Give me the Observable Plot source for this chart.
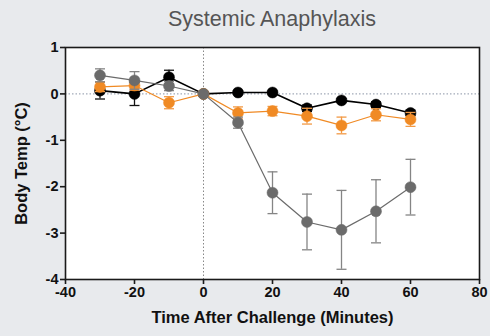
<!DOCTYPE html>
<html><head><meta charset="utf-8">
<script src="https://cdn.jsdelivr.net/npm/d3@7"></script>
<script src="https://cdn.jsdelivr.net/npm/@observablehq/plot@0.6"></script>
<style>
html,body{margin:0;padding:0;background:#e8eaed;width:490px;height:336px;overflow:hidden;font-family:"Liberation Sans",Arial,sans-serif;}
#title{height:38px;line-height:39px;text-align:center;font-size:21.5px;color:#555;padding-left:54px;box-sizing:border-box;}
</style></head>
<body>
<div id="title">Systemic Anaphylaxis</div>
<div id="chart"></div>
<script>
const times = [-30, -20, -10, 0, 10, 20, 30, 40, 50, 60];
const seriesNames = ["Black", "Orange", "Gray"];
const blackMean = [0.07, 0.0, 0.36, 0, 0.03, 0.03, -0.31, -0.14, -0.23, -0.41];
const blackErr  = [0.18, 0.25, 0.15, 0, 0.03, 0.03, 0.07, 0.04, 0.06, 0.06];
const orangeMean = [0.15, 0.18, -0.19, 0, -0.41, -0.37, -0.48, -0.68, -0.45, -0.55];
const orangeErr  = [0.1, 0.1, 0.13, 0, 0.13, 0.1, 0.17, 0.18, 0.13, 0.15];
const grayMean = [0.4, 0.29, 0.17, 0, -0.62, -2.13, -2.76, -2.93, -2.53, -2.01];
const grayErr  = [0.14, 0.19, 0.1, 0, 0.12, 0.45, 0.6, 0.85, 0.68, 0.6];
const xTicks = [-40, -20, 0, 20, 40, 60, 80];
const yTicks = [1, 0, -1, -2, -3, -4];

const colors = {Black: "#000000", Orange: "#f08a24", Gray: "#6b6b6b"};
const errColors = {Black: "#111111", Orange: "#f29a45", Gray: "#858585"};

function build(name, mean, err) {
  return times.map((t, i) => ({series: name, t, v: mean[i], lo: mean[i] - err[i], hi: mean[i] + err[i], e: err[i]}));
}
const data = {
  Black: build("Black", blackMean, blackErr),
  Orange: build("Orange", orangeMean, orangeErr),
  Gray: build("Gray", grayMean, grayErr)
};

const capSymbol = {draw(ctx, size) { const w = 5; ctx.moveTo(-w, 0); ctx.lineTo(w, 0); }};

function seriesMarks(name) {
  const d = data[name];
  const de = d.filter(r => r.e > 0);
  return [
    Plot.line(d, {x: "t", y: "v", stroke: colors[name], strokeWidth: name === "Black" ? 1.6 : 1.2}),
    Plot.ruleX(de, {x: "t", y1: "lo", y2: "hi", stroke: errColors[name], strokeWidth: 1.3}),
    Plot.dot(de, {x: "t", y: "hi", symbol: capSymbol, stroke: errColors[name], strokeWidth: 1.3}),
    Plot.dot(de, {x: "t", y: "lo", symbol: capSymbol, stroke: errColors[name], strokeWidth: 1.3}),
    Plot.dot(d, {x: "t", y: "v", r: 5.5, fill: colors[name], stroke: colors[name], strokeWidth: 0.5})
  ];
}

const chart = Plot.plot({
  width: 490,
  height: 298,
  marginLeft: 65,
  marginRight: 11,
  marginTop: 9,
  marginBottom: 57,
  style: {background: "transparent", fontFamily: "'Liberation Sans', Arial, sans-serif"},
  x: {domain: [-40, 80]},
  y: {domain: [-4, 1]},
  marks: [
    Plot.frame({fill: "white", stroke: null}),
    Plot.ruleY([0], {stroke: "#8a94a6", strokeDasharray: "1.5,2", strokeWidth: 1}),
    Plot.ruleX([0], {stroke: "#888", strokeDasharray: "1.5,2", strokeWidth: 1}),
    ...seriesMarks("Black"),
    ...seriesMarks("Orange"),
    ...seriesMarks("Gray"),
    Plot.frame({stroke: "#1a1a1a", strokeWidth: 1.6}),
    Plot.axisX({ticks: xTicks, tickSize: 5, tickPadding: 2, label: null, fontSize: 14.5, fontWeight: "bold", tickFormat: d => String(d).replace("−", "-"), stroke: "#1a1a1a", strokeWidth: 1.6, color: "#111"}),
    Plot.axisY({ticks: yTicks, tickSize: 5, tickPadding: 2, label: null, fontSize: 14.5, fontWeight: "bold", tickFormat: d => String(d).replace("−", "-"), stroke: "#1a1a1a", strokeWidth: 1.6, color: "#111"}),
    Plot.text(["Time After Challenge (Minutes)"], {frameAnchor: "bottom", dy: 43, fontSize: 16.5, fontWeight: "bold", fill: "#111"}),
    Plot.text(["Body Temp (°C)"], {frameAnchor: "left", textAnchor: "middle", dx: -44, rotate: -90, fontSize: 16.5, fontWeight: "bold", fill: "#111"})
  ]
});
document.getElementById("chart").appendChild(chart);
</script>
</body></html>
